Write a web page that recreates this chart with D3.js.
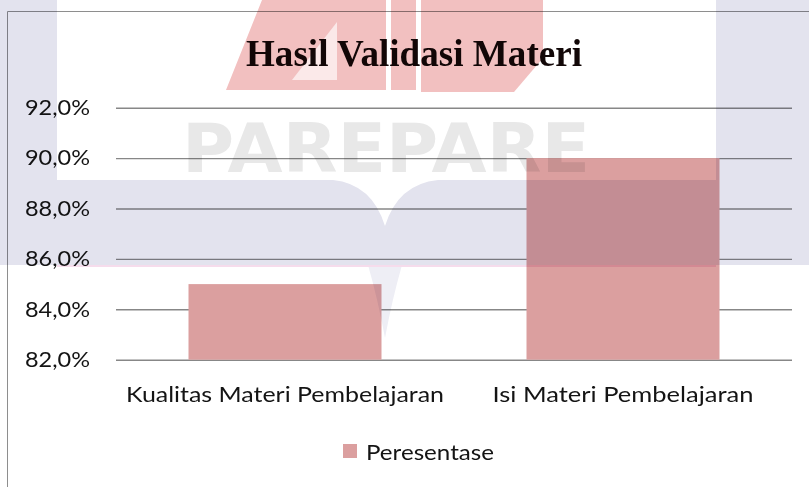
<!DOCTYPE html>
<html>
<head>
<meta charset="utf-8">
<script src="https://cdn.jsdelivr.net/npm/d3@7"></script>
<style>
  html, body { margin: 0; padding: 0; background: #fff; }
  svg { display: block; }
  .wm { mix-blend-mode: multiply; }
</style>
</head>
<body>
<svg id="chart" width="809" height="487"></svg>
<script>
// Chart data
const categories = ["Kualitas Materi Pembelajaran", "Isi Materi Pembelajaran"];
const values = [0.85, 0.90];
const seriesName = "Peresentase";
const yTicks = [0.82, 0.84, 0.86, 0.88, 0.90, 0.92];
const title = "Hasil Validasi Materi";

const W = 809, H = 487;
const plot = { left: 116, right: 792, top: 107.7, bottom: 359.7 };
const barColor = "#db9f9f";
const textColor = "#141414";
const labelFont = "Lato, 'Open Sans', sans-serif";

const svg = d3.select("#chart");
svg.append("rect").attr("width", W).attr("height", H).attr("fill", "#fff");

// Chart frame
svg.append("path")
  .attr("d", `M7.5,${H} V11.5 H${W}`)
  .attr("fill", "none").attr("stroke", "#8e8e8e").attr("stroke-width", 1);

// Title
svg.append("text")
  .attr("x", 414).attr("y", 66)
  .attr("text-anchor", "middle")
  .attr("font-family", "'Liberation Serif', 'Times New Roman', serif")
  .attr("font-weight", "bold")
  .attr("font-size", 38)
  .attr("textLength", 336).attr("lengthAdjust", "spacingAndGlyphs")
  .attr("fill", "#120808")
  .text(title);

const locale = d3.formatLocale({ decimal: ",", thousands: ".", grouping: [3], currency: ["Rp", ""], percent: "%" });
const fmt = locale.format(".1%");

const x = d3.scaleBand()
  .domain(categories)
  .range([plot.left, plot.right])
  .paddingInner(0.429)
  .paddingOuter(0.2145);

const y = d3.scaleLinear()
  .domain([yTicks[0], yTicks[yTicks.length - 1]])
  .range([plot.bottom, plot.top]);

// Gridlines with y labels
const yAxis = svg.append("g")
  .attr("transform", `translate(${plot.left},0)`)
  .call(d3.axisLeft(y)
    .tickValues(yTicks)
    .tickFormat(fmt)
    .tickSizeInner(-(plot.right - plot.left))
    .tickSizeOuter(0)
    .tickPadding(26));
yAxis.select(".domain").remove();
yAxis.selectAll(".tick line")
  .attr("stroke", "#878787").attr("stroke-width", 1.4);
yAxis.selectAll(".tick text")
  .attr("font-family", labelFont).attr("font-size", 21)
  .attr("fill", textColor)
  .attr("textLength", 65).attr("lengthAdjust", "spacingAndGlyphs");

// Bars
svg.append("g").selectAll("rect")
  .data(values)
  .join("rect")
  .attr("x", (d, i) => x(categories[i]))
  .attr("width", x.bandwidth())
  .attr("y", d => y(d))
  .attr("height", d => y(yTicks[0]) - y(d))
  .attr("fill", barColor);

// Category labels
const xAxis = svg.append("g")
  .attr("transform", `translate(0,${plot.bottom})`)
  .call(d3.axisBottom(x).tickSize(0).tickPadding(27));
xAxis.select(".domain").remove();
const catWidths = [318, 261];
xAxis.selectAll(".tick text")
  .attr("font-family", labelFont).attr("font-size", 21)
  .attr("fill", textColor)
  .attr("textLength", (d, i) => catWidths[i]).attr("lengthAdjust", "spacingAndGlyphs");

// Legend
const legend = svg.append("g").attr("transform", "translate(343,444)");
legend.append("rect").attr("width", 14).attr("height", 14).attr("fill", barColor);
legend.append("text")
  .attr("x", 23).attr("y", 16)
  .attr("font-family", labelFont).attr("font-size", 21)
  .attr("fill", textColor)
  .attr("textLength", 128).attr("lengthAdjust", "spacingAndGlyphs")
  .text(seriesName);

// Background emblem, blended over the page
const wm = svg.append("g").attr("class", "wm");
const lav = "#e3e3ee";
wm.append("rect").attr("x", 0).attr("y", 0).attr("width", 57).attr("height", 265).attr("fill", lav);
wm.append("rect").attr("x", 716).attr("y", 0).attr("width", 93).attr("height", 265).attr("fill", lav);
wm.append("path")
  .attr("d", "M57,180 L333,180 Q372,184 385,226 Q398,184 438,180 L716,180 L716,265 L57,265 Z")
  .attr("fill", lav);
wm.append("path")
  .attr("d", "M368,265 L402,265 Q392,300 385,338 Q378,300 368,265 Z")
  .attr("fill", "#eeeef5");
wm.append("rect").attr("x", 57).attr("y", 265).attr("width", 659).attr("height", 2).attr("fill", "#f6dcec");

const red = "#f2c0c0";
wm.append("path")
  .attr("d", "M226,90 L262,0 L386,0 L386,90 Z")
  .attr("fill", red);
wm.append("path")
  .attr("d", "M337,22 L337,80 L292,80 Z")
  .attr("fill", "#fbe9e9");
wm.append("rect").attr("x", 391).attr("y", 0).attr("width", 25).attr("height", 90).attr("fill", red);
wm.append("path")
  .attr("d", "M421,0 L543,0 L543,58 L514,92 L421,92 Z")
  .attr("fill", red);

wm.append("text")
  .attr("x", 182).attr("y", 172)
  .attr("font-family", "'DejaVu Sans', sans-serif")
  .attr("font-weight", "bold")
  .attr("font-size", 67)
  .attr("textLength", 408).attr("lengthAdjust", "spacingAndGlyphs")
  .attr("fill", "#e8e8e8")
  .text("PAREPARE");
</script>
</body>
</html>
